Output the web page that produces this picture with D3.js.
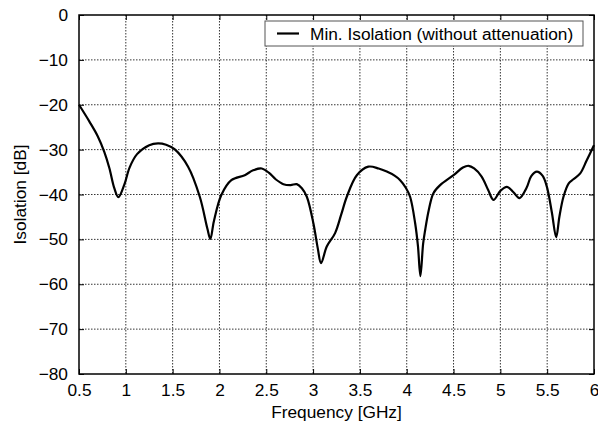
<!DOCTYPE html>
<html>
<head>
<meta charset="utf-8">
<script src="https://cdn.jsdelivr.net/npm/d3@7"></script>
<style>
  body { margin: 0; background: #fff; }
  text { font-family: "Liberation Sans", Arial, sans-serif; fill: #000; }
</style>
</head>
<body>
<script>
// data
const freq = [0.5, 0.61, 0.7, 0.77, 0.824, 0.877, 0.92, 0.984, 1.04, 1.12, 1.25, 1.344, 1.43, 1.52, 1.665, 1.79, 1.87, 1.903, 1.94, 2.02, 2.127,
  2.27, 2.36, 2.452, 2.53, 2.6, 2.683, 2.76, 2.826, 2.88, 2.933, 3.003, 3.05, 3.085, 3.146, 3.235, 3.3, 3.36, 3.467, 3.59, 3.7,
  3.787, 3.87, 3.93, 3.99, 4.036, 4.09, 4.12, 4.146, 4.175, 4.197, 4.235, 4.285, 4.357, 4.5, 4.6, 4.66, 4.72, 4.8, 4.87, 4.926,
  5.0, 5.07, 5.14, 5.204, 5.28, 5.33, 5.39, 5.45, 5.497, 5.55, 5.596, 5.63, 5.674, 5.73, 5.78, 5.853, 5.92, 6.0];
const isolation = [-20, -23.7, -27.0, -30.5, -34.1, -38.6, -40.6, -37.8, -34.0, -31.0, -29.0, -28.6, -28.9, -29.9, -33.8, -40.5, -47.5, -49.9, -46, -40.1, -36.8,
  -35.7, -34.6, -34.2, -35.2, -36.6, -37.7, -37.9, -37.7, -38.6, -40.5, -46.4, -52, -55.3, -51.6, -48.6, -44.5, -40.5, -35.7, -33.8, -34.2,
  -34.9, -35.8, -36.8, -38.5, -40.5, -46.4, -51.5, -58.2, -51, -47.9, -43.5, -39.7, -37.9, -35.7, -34.0, -33.6, -34.2, -36.0, -39, -41.2,
  -39.2, -38.3, -39.5, -40.8, -38.5, -35.9, -34.9, -35.8, -38.3, -44, -49.5, -45, -40.5, -37.5, -36.6, -35.3, -32.5, -29.0];
const xTicks = [0.5, 1, 1.5, 2, 2.5, 3, 3.5, 4, 4.5, 5, 5.5, 6];
const yTicks = [0, -10, -20, -30, -40, -50, -60, -70, -80];
const seriesName = "Min. Isolation (without attenuation)";

const W = 598, H = 428;
const m = { left: 79, right: 4, top: 15, bottom: 54 };
const iw = W - m.left - m.right, ih = H - m.top - m.bottom;

const svg = d3.select("body").append("svg").attr("width", W).attr("height", H);
const g = svg.append("g").attr("transform", `translate(${m.left},${m.top})`);

const x = d3.scaleLinear().domain([0.5, 6]).range([0, iw]);
const y = d3.scaleLinear().domain([-80, 0]).range([ih, 0]);

const fmt = d => (d < 0 ? "\u2212" + Math.abs(d) : String(d));

// grid
g.append("g").selectAll("line").data(xTicks.slice(1, -1)).join("line")
  .attr("x1", d => x(d)).attr("x2", d => x(d)).attr("y1", 0).attr("y2", ih)
  .attr("stroke", "#000").attr("stroke-width", 0.8).attr("stroke-dasharray", "1.5,1.5");
g.append("g").selectAll("line").data(yTicks.slice(1, -1)).join("line")
  .attr("y1", d => y(d)).attr("y2", d => y(d)).attr("x1", 0).attr("x2", iw)
  .attr("stroke", "#000").attr("stroke-width", 0.8).attr("stroke-dasharray", "1.5,1.5");

// axes, ticks pointing inward, mirrored
const fs = "17.3px";
g.append("g").attr("transform", `translate(0,${ih})`)
  .call(d3.axisBottom(x).tickValues(xTicks).tickSizeInner(-5).tickSizeOuter(0).tickPadding(10).tickFormat(d => String(d)))
  .call(a => a.select(".domain").remove())
  .call(a => a.selectAll("text").style("font-size", fs).attr("dy", "0.71em"));
g.append("g")
  .call(d3.axisTop(x).tickValues(xTicks).tickSizeInner(-5).tickSizeOuter(0).tickFormat(""))
  .call(a => a.select(".domain").remove());
g.append("g")
  .call(d3.axisLeft(y).tickValues(yTicks).tickSizeInner(-5).tickSizeOuter(0).tickPadding(11).tickFormat(fmt))
  .call(a => a.select(".domain").remove())
  .call(a => a.selectAll("text").style("font-size", fs));
g.append("g").attr("transform", `translate(${iw},0)`)
  .call(d3.axisRight(y).tickValues(yTicks).tickSizeInner(-5).tickSizeOuter(0).tickFormat(""))
  .call(a => a.select(".domain").remove());

// legend
const lg = g.append("g");
lg.append("rect").attr("x", 186).attr("y", 6).attr("width", 318).attr("height", 25)
  .attr("fill", "#fff").attr("stroke", "#555").attr("stroke-width", 1);
lg.append("line").attr("x1", 198).attr("x2", 220).attr("y1", 18.5).attr("y2", 18.5)
  .attr("stroke", "#000").attr("stroke-width", 2.2);
lg.append("text").attr("x", 231).attr("y", 24.5).style("font-size", fs).text(seriesName);

// curve
const pts = freq.map((f, i) => [f, isolation[i]]);
g.append("path").datum(pts)
  .attr("fill", "none").attr("stroke", "#000").attr("stroke-width", 2.2)
  .attr("d", d3.line().x(d => x(d[0])).y(d => y(d[1])).curve(d3.curveCatmullRom.alpha(0.5)));

// frame
g.append("rect").attr("width", iw).attr("height", ih)
  .attr("fill", "none").attr("stroke", "#000").attr("stroke-width", 1.5);

// titles
svg.append("text").attr("x", m.left + iw / 2).attr("y", 418).attr("text-anchor", "middle")
  .style("font-size", fs).text("Frequency [GHz]");
svg.append("text").attr("transform", `translate(26,${m.top + ih / 2}) rotate(-90)`)
  .attr("text-anchor", "middle").style("font-size", fs).text("Isolation [dB]");
</script>
</body>
</html>
